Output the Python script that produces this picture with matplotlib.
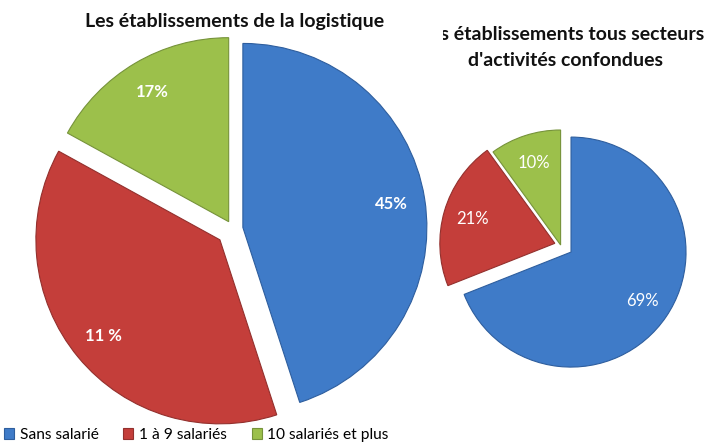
import matplotlib
matplotlib.use("Agg")
import matplotlib.pyplot as plt

plt.rcParams['font.family'] = ['Lato', 'DejaVu Sans']

# data
categories = ["Sans salarié", "1 à 9 salariés", "10 salariés et plus"]
logistique_values = [45, 38, 17]
logistique_labels = ["45%", "11 %", "17%"]
tous_values = [69, 21, 10]
tous_labels = ["69%", "21%", "10%"]
colors = ["#3F7BC8", "#C43E3A", "#9CC04B"]
edges = ["#2E5E9E", "#93302D", "#76933A"]

fig = plt.figure(figsize=(7.21, 4.46), dpi=100)

# left pie : logistique (axes in pixel units, explode is in data units)
ax1 = fig.add_axes([0, 0, 1, 1])
wedges, texts = ax1.pie(logistique_values, labels=logistique_labels, colors=colors,
                        startangle=90, counterclock=False,
                        explode=[10, 17, 8.5], center=(233, 217), radius=184,
                        labeldistance=0.82,
                        textprops=dict(color="white", fontsize=12, fontweight="bold"))
for w, ec in zip(wedges, edges):
    w.set_edgecolor(ec)
    w.set_linewidth(0.8)
for t in texts:
    t.set_ha("center")
ax1.set_xlim(0, 721)
ax1.set_ylim(0, 446)
ax1.axis("off")
ax1.text(235, 424, "Les établissements de la logistique", ha="center", va="center",
         fontsize=14, fontweight="bold", color="#111111")

# right pie : tous secteurs (clipped on the left)
x0 = 443
ax2 = fig.add_axes([x0 / 721, 0, (721 - x0) / 721, 1])
wedges2, texts2 = ax2.pie(tous_values, labels=tous_labels, colors=colors,
                          startangle=90, counterclock=False,
                          explode=[12.6, 6, 0], center=(560.6, 201), radius=115,
                          labeldistance=0.75,
                          textprops=dict(color="white", fontsize=12))
for w, ec in zip(wedges2, edges):
    w.set_edgecolor(ec)
    w.set_linewidth(0.8)
for t in texts2:
    t.set_ha("center")
ax2.set_xlim(x0, 721)
ax2.set_ylim(0, 446)
ax2.axis("off")
ax2.text(562, 411, "Les établissements tous secteurs", ha="center", va="center",
         fontsize=14, fontweight="bold", color="#111111", clip_on=True)
ax2.text(566, 386, "d'activités confondues", ha="center", va="center",
         fontsize=14, fontweight="bold", color="#111111", clip_on=True)

# legend
fig.legend(wedges, categories, loc="lower left", bbox_to_anchor=(-0.003, -0.005), ncol=3,
           frameon=False, fontsize=11.2, handlelength=0.65, handleheight=0.65,
           handletextpad=0.35, columnspacing=1.6, borderaxespad=0.2, borderpad=0.2)

fig.savefig("out.png", dpi=100)
